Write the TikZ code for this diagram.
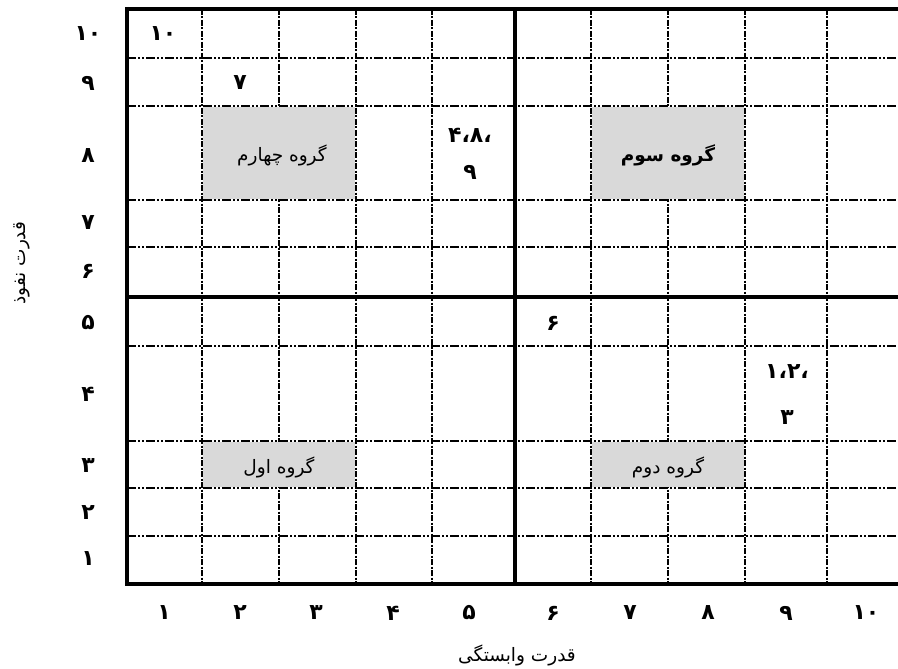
\documentclass[tikz,border=0pt]{standalone}
\usepackage{fontspec}
\setmainfont{DejaVu Sans}
\newfontfamily\fa[Script=Arabic]{DejaVu Sans}
\TeXXeTstate=1
\definecolor{boxgray}{HTML}{D9D9D9}
\tikzset{
  hgrid/.style={line width=1.3pt, dash pattern=on 9pt off 2pt on 2pt off 2pt on 2pt off 2pt},
  vgrid/.style={line width=2.4pt, dash pattern=on 6pt off 1.5pt on 2pt off 1.5pt},
  heavy/.style={line width=4pt},
  grp/.style={fill=boxgray, draw=none},
  grptext/.style={font=\fa\fontsize{18.5}{20}\selectfont, inner sep=0pt},
  ax/.style={font=\fa\bfseries\fontsize{22}{24}\selectfont, inner sep=0pt},
  cell/.style={font=\fa\bfseries\fontsize{22}{24}\selectfont, inner sep=0pt},
  axtitle/.style={font=\fa\fontsize{18.5}{20}\selectfont, inner sep=0pt}
}
\begin{document}
\begin{tikzpicture}[x=1pt,y=-1pt]
\useasboundingbox (0,0) rectangle (898,669);
\fill[white] (0,0) rectangle (898,669);
% horizontal grid lines
\foreach \yy in {58,106,200,247,346,441,488,536}
  \draw[hgrid] (127,\yy) -- (898,\yy);
% vertical grid lines
\foreach \xx in {202,279,356,432,591,668,745,827}
  \draw[vgrid] (\xx,9) -- (\xx,584);
% group boxes (cover interior grid lines)
\fill[grp] (203.4,107.2) rectangle (354.6,198.8);
\fill[grp] (592.4,107.2) rectangle (743.6,198.8);
\fill[grp] (203.4,442.2) rectangle (354.6,486.8);
\fill[grp] (592.4,442.2) rectangle (743.6,486.8);
% heavy lines
\draw[heavy] (127,9) -- (898,9);
\draw[heavy] (127,584) -- (898,584);
\draw[heavy] (127,7) -- (127,586);
\draw[heavy] (515,9) -- (515,584);
\draw[heavy] (127,297) -- (898,297);
% group labels
\node[grptext] (g4) at (282,155) {\beginR گروه چهارم\endR};
\node[grptext, font=\fa\bfseries\fontsize{18.5}{20}\selectfont] (g3) at (668,155) {\beginR گروه سوم\endR};
\node[grptext] (g1) at (279,467) {\beginR گروه اول\endR};
\node[grptext] (g2) at (668,467) {\beginR گروه دوم\endR};
% cell contents
\node[cell] (c10) at (163,34) {۱۰};
\node[cell] (c7) at (240,83) {۷};
\node[cell] (c489a) at (470,135) {،۴،۸};
\node[cell] (c489b) at (470,172) {۹};
\node[cell] (c6) at (553,323) {۶};
\node[cell] (c123a) at (787,372) {،۱،۲};
\node[cell] (c123b) at (787,418) {۳};
% y axis labels
\node[ax] (y10) at (88,34) {۱۰};
\node[ax] (y9) at (88,83) {۹};
\node[ax] (y8) at (88,156) {۸};
\node[ax] (y7) at (88,223) {۷};
\node[ax] (y6) at (88,271) {۶};
\node[ax] (y5) at (88,323) {۵};
\node[ax] (y4) at (88,394) {۴};
\node[ax] (y3) at (88,466) {۳};
\node[ax] (y2) at (88,513) {۲};
\node[ax] (y1) at (88,559) {۱};
% x axis labels
\node[ax] (x1) at (164,613) {۱};
\node[ax] (x2) at (240,613) {۲};
\node[ax] (x3) at (316,613) {۳};
\node[ax] (x4) at (393,613) {۴};
\node[ax] (x5) at (469,613) {۵};
\node[ax] (x6) at (553,613) {۶};
\node[ax] (x7) at (630,613) {۷};
\node[ax] (x8) at (708,613) {۸};
\node[ax] (x9) at (786,613) {۹};
\node[ax] (x10) at (866,613) {۱۰};
% axis titles
\node[axtitle] (xt) at (517,655) {\beginR قدرت وابستگی\endR};
\node[axtitle, rotate=90] (yt) at (22,263) {\beginR قدرت نفوذ\endR};
\end{tikzpicture}
\end{document}
